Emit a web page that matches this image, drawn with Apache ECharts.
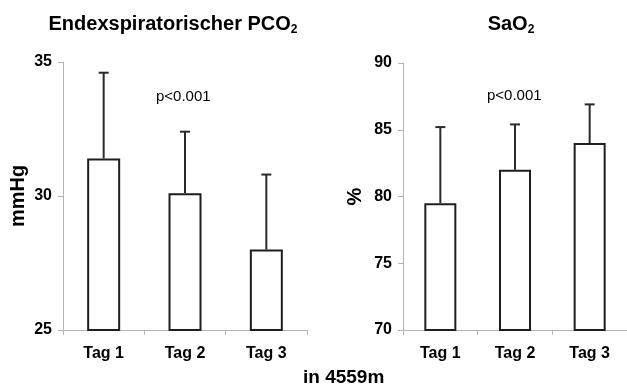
<!DOCTYPE html>
<html>
<head>
<meta charset="utf-8">
<script src="https://cdn.jsdelivr.net/npm/echarts@6/dist/echarts.min.js"></script>
<style>
  html, body { margin: 0; padding: 0; background: #fff; }
  #main { width: 627px; height: 385px; }
</style>
</head>
<body>
<div id="main"></div>
<script>
var categories = ['Tag 1', 'Tag 2', 'Tag 3'];
// endexspiratorischer PCO2 (mmHg): mean and upper end of error bar
var pco2Mean = [31.4, 30.1, 28.0];
var pco2Upper = [34.6, 32.4, 30.8];
// SaO2 (%)
var sao2Mean = [79.5, 82.0, 84.0];
var sao2Upper = [85.2, 85.4, 86.9];
var pco2Ticks = [25, 35, 5];
var sao2Ticks = [70, 90, 5];

var font = '"Liberation Sans", Arial, sans-serif';
var axisGray = '#b4b4b4';

function errorData(mean, upper) {
  return mean.map(function (m, i) { return [i, m, upper[i]]; });
}

function renderError(params, api) {
  var base = api.coord([api.value(0), api.value(1)]);
  var top = api.coord([api.value(0), api.value(2)]);
  var half = 5;
  var style = { stroke: '#2a2a2a', lineWidth: 2 };
  return {
    type: 'group',
    children: [
      { type: 'line', shape: { x1: base[0], y1: base[1], x2: top[0], y2: top[1] }, style: style },
      { type: 'line', shape: { x1: top[0] - half, y1: top[1], x2: top[0] + half, y2: top[1] }, style: style }
    ]
  };
}

function xAxisOpt(gridIndex) {
  return {
    type: 'category',
    gridIndex: gridIndex,
    data: categories,
    axisLine: { lineStyle: { color: axisGray, width: 1 } },
    axisTick: { show: true, length: 5, lineStyle: { color: axisGray } },
    axisLabel: { color: '#000', fontFamily: font, fontWeight: 'bold', fontSize: 16, margin: 16 }
  };
}

function yAxisOpt(gridIndex, ticks, name, gap) {
  return {
    type: 'value',
    gridIndex: gridIndex,
    min: ticks[0],
    max: ticks[1],
    interval: ticks[2],
    name: name,
    nameLocation: 'middle',
    nameRotate: 90,
    nameGap: gap,
    nameTextStyle: { color: '#000', fontFamily: font, fontWeight: 'bold', fontSize: 20 },
    axisLine: { show: true, lineStyle: { color: axisGray, width: 1 } },
    axisTick: { show: true, length: 5, lineStyle: { color: axisGray } },
    splitLine: { show: false },
    axisLabel: { color: '#000', fontFamily: font, fontWeight: 'bold', fontSize: 16, margin: 11 }
  };
}

var barStyle = { color: '#fff', borderColor: '#1e1e1e', borderWidth: 2 };

var titleRich = {
  a: { fontFamily: font, fontWeight: 'bold', fontSize: 20, color: '#000' },
  s: { fontFamily: font, fontWeight: 'bold', fontSize: 12, color: '#000', padding: [11, 0, 0, 0] }
};

var chart = echarts.init(document.getElementById('main'));
var option = {
  backgroundColor: '#fff',
  animation: false,
  title: [
    {
      text: '{a|Endexspiratorischer PCO}{s|2}',
      left: 168, top: 8, textAlign: 'center',
      textStyle: { rich: titleRich }
    },
    {
      text: '{a|SaO}{s|2}',
      left: 506, top: 8, textAlign: 'center',
      textStyle: { rich: titleRich }
    }
  ],
  graphic: [
    { type: 'text', left: 156, top: 89, style: { text: 'p<0.001', font: '15px ' + font, fill: '#000' } },
    { type: 'text', left: 487, top: 88, style: { text: 'p<0.001', font: '15px ' + font, fill: '#000' } },
    { type: 'text', left: 303, top: 368, style: { text: 'in 4559m', font: 'bold 19px ' + font, fill: '#000' } }
  ],
  grid: [
    { left: 63, top: 62, width: 244, height: 268 },
    { left: 403, top: 63, width: 225, height: 267 }
  ],
  xAxis: [xAxisOpt(0), xAxisOpt(1)],
  yAxis: [yAxisOpt(0, pco2Ticks, 'mmHg', 35), yAxisOpt(1, sao2Ticks, '%', 38)],
  series: [
    { type: 'bar', xAxisIndex: 0, yAxisIndex: 0, data: pco2Mean, barWidth: 33, itemStyle: barStyle },
    { type: 'custom', xAxisIndex: 0, yAxisIndex: 0, data: errorData(pco2Mean, pco2Upper), renderItem: renderError, z: 3 },
    { type: 'bar', xAxisIndex: 1, yAxisIndex: 1, data: sao2Mean, barWidth: 32, itemStyle: barStyle },
    { type: 'custom', xAxisIndex: 1, yAxisIndex: 1, data: errorData(sao2Mean, sao2Upper), renderItem: renderError, z: 3 }
  ]
};
chart.setOption(option);
</script>
</body>
</html>
